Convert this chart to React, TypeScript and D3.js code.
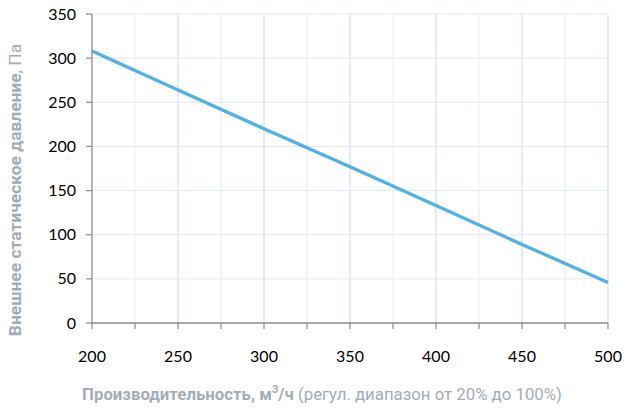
import React from "react";
import * as d3 from "d3";

const flow = [200, 250, 300, 350, 400, 450, 500];
const pressure = [308, 264, 220, 177, 133, 89, 46];
const xTicks = [200, 250, 300, 350, 400, 450, 500];
const xMinorTicks = [225, 275, 325, 375, 425, 475];
const yTicks = [0, 50, 100, 150, 200, 250, 300, 350];

export default function App() {
  const W = 629, H = 411;
  const x = d3.scaleLinear().domain([200, 500]).range([92, 608]);
  const y = d3.scaleLinear().domain([0, 350]).range([323, 14]);
  const line = d3.line<number>().x((_, i) => x(flow[i])).y((d) => y(d));
  const tickFont = "Lato, 'Open Sans', sans-serif";
  const titleColor = "#a3adb8";
  return (
    <svg width={W} height={H} style={{ position: "absolute", left: 0, top: 0 }}>
      <rect width={W} height={H} fill="#fff" />
      {yTicks.filter((t) => t > 0).map((t) => (
        <line key={"h" + t} x1={x(200)} x2={x(500)} y1={y(t)} y2={y(t)} stroke="#dfe8f5" strokeWidth={1} />
      ))}
      {xMinorTicks.map((t) => (
        <line key={"vm" + t} x1={x(t)} x2={x(t)} y1={y(350)} y2={y(0)} stroke="#eaf0f8" strokeWidth={1.2} />
      ))}
      {xTicks.filter((t) => t > 200).map((t) => (
        <line key={"v" + t} x1={x(t)} x2={x(t)} y1={y(350)} y2={y(0)} stroke="#dce6f4" strokeWidth={1.5} />
      ))}
      <path d={line(pressure) || ""} fill="none" stroke="#4fb3e8" strokeWidth={3.3} />
      <line x1={x(200)} x2={x(200)} y1={y(350)} y2={y(0) + 0.5} stroke="#8c8c8c" strokeWidth={1.3} />
      <line x1={x(200)} x2={x(500)} y1={y(0)} y2={y(0)} stroke="#8c8c8c" strokeWidth={1.5} />
      {yTicks.map((t) => (
        <line key={"yt" + t} x1={x(200) - 6} x2={x(200)} y1={y(t)} y2={y(t)} stroke="#8c8c8c" strokeWidth={1.2} />
      ))}
      {[...xTicks, ...xMinorTicks].map((t) => (
        <line key={"xt" + t} x1={x(t)} x2={x(t)} y1={y(0)} y2={y(0) + 6} stroke="#8c8c8c" strokeWidth={1.2} />
      ))}
      {yTicks.map((t) => (
        <text key={"yl" + t} x={76} y={y(t)} dy="0.35em" textAnchor="end" fontFamily={tickFont} fontSize={16} fill="#000">
          {t}
        </text>
      ))}
      {xTicks.map((t) => (
        <text key={"xl" + t} x={x(t)} y={356} dy="0.35em" textAnchor="middle" fontFamily={tickFont} fontSize={16} fill="#000">
          {t}
        </text>
      ))}
      <text x={322} y={400} textAnchor="middle" fontFamily="Roboto, sans-serif" fontSize={16.8} fill={titleColor}>
        <tspan fontWeight="bold">Производительность, м</tspan>
        <tspan fontWeight="bold" dy={-7} fontSize={11}>3</tspan>
        <tspan fontWeight="bold" dy={7}>/ч</tspan>
        <tspan> (регул. диапазон от 20% до 100%)</tspan>
      </text>
      <text transform={`translate(21,190) rotate(-90)`} textAnchor="middle" fontFamily="Roboto, sans-serif" fontSize={17.4} fill={titleColor}>
        <tspan fontWeight="bold">Внешнее статическое давление</tspan>
        <tspan>, Па</tspan>
      </text>
    </svg>
  );
}
